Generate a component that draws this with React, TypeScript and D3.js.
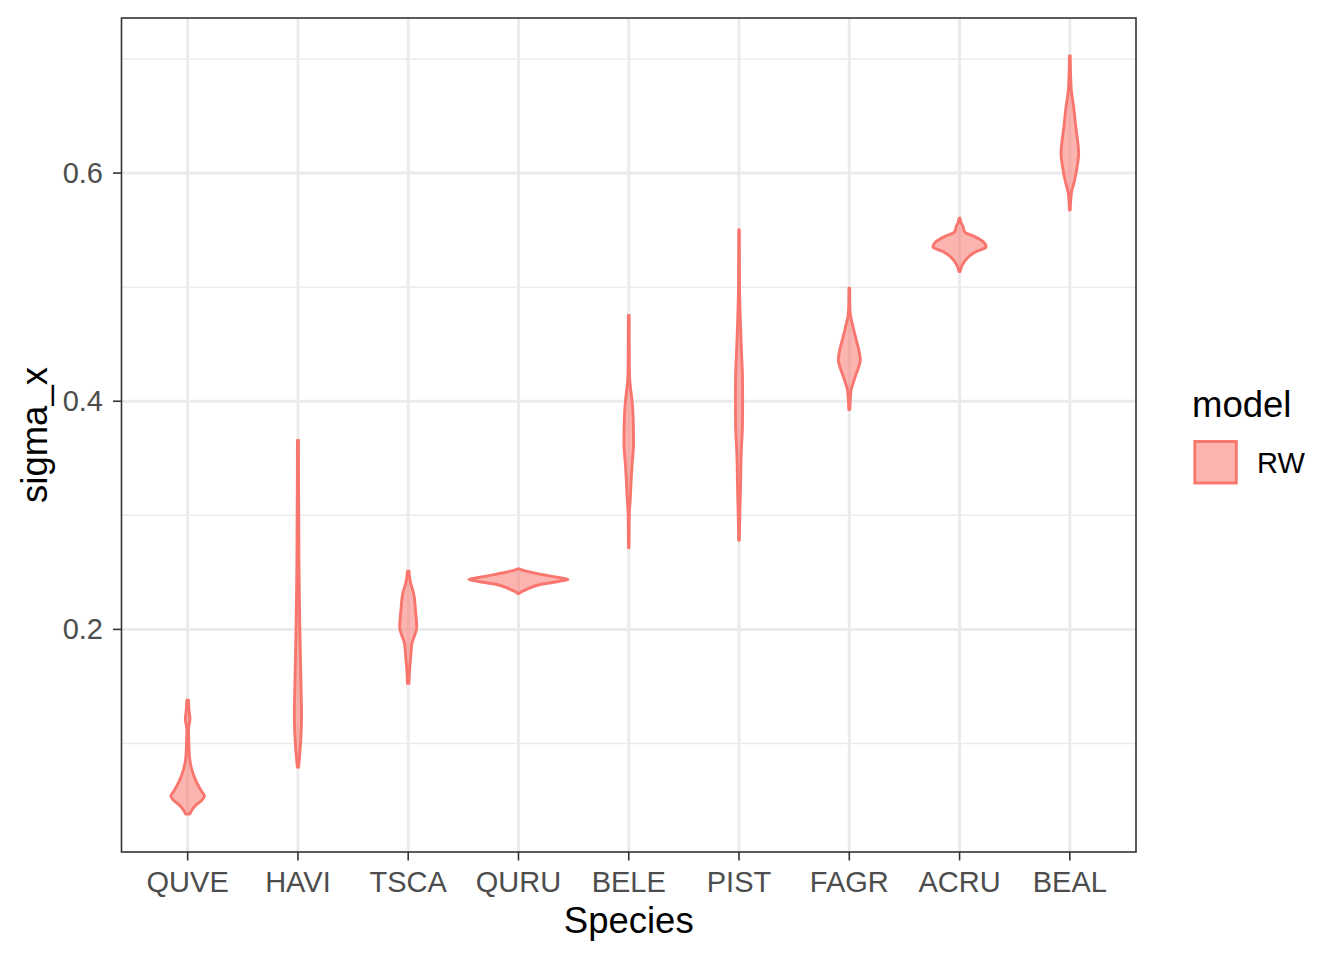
import React from "react";
import * as d3 from "d3";

// Categories, in axis order
const species: string[] = ["QUVE", "HAVI", "TSCA", "QURU", "BELE", "PIST", "FAGR", "ACRU", "BEAL"];
const majorTicks: number[] = [0.2, 0.4, 0.6];
const minorTicks: number[] = [0.1, 0.3, 0.5, 0.7];
const legendTitle = "model";
const legendLabels: string[] = ["RW"];

// Violin profiles: [sigma_x value, relative density]
const quve: [number, number][] = [
  [0.1379, 0.8], [0.130, 1.3], [0.1212, 2.3], [0.1125, 0.8], [0.100, 1.2], [0.0891, 1.7],
  [0.0775, 4], [0.0658, 9], [0.058, 14], [0.0541, 16.8], [0.050, 14], [0.0468, 9.3],
  [0.042, 4.5], [0.0381, 2],
];
const havi: [number, number][] = [
  [0.3657, 0.5], [0.33, 0.6], [0.30, 0.8], [0.259, 1.0], [0.23, 1.4], [0.20, 1.9],
  [0.17, 2.6], [0.145, 3.2], [0.127, 3.6], [0.11, 3.2], [0.095, 2.2], [0.085, 1.2], [0.0792, 0.6],
];
const tsca: [number, number][] = [
  [0.251, 0.8], [0.247, 1.2], [0.241, 2.3], [0.232, 5.3], [0.2175, 7.2], [0.2017, 8.5],
  [0.195, 6.5], [0.188, 3.8], [0.176, 2.5], [0.162, 1.2], [0.1527, 0.8],
];
const quru: [number, number][] = [
  [0.2531, 0.5], [0.2520, 4], [0.2510, 8], [0.2480, 24], [0.2455, 40], [0.2438, 49.6],
  [0.2420, 40], [0.2398, 24], [0.2350, 8], [0.2330, 3], [0.2314, 0.5],
];
const bele: [number, number][] = [
  [0.4753, 0.4], [0.45, 0.5], [0.43, 0.6], [0.42, 0.9], [0.413, 1.6], [0.401, 3.2],
  [0.387, 4.3], [0.3634, 4.8], [0.343, 3.2], [0.329, 2.3], [0.314, 1.5], [0.302, 0.6],
  [0.285, 0.4], [0.2715, 0.3],
];
const pist: [number, number][] = [
  [0.5504, 0.3], [0.5007, 0.5], [0.4716, 1.3], [0.4425, 2.5], [0.419, 3.5], [0.40, 3.6],
  [0.378, 3.4], [0.355, 2.2], [0.3255, 1.5], [0.2963, 0.7], [0.2782, 0.3],
];
const fagr: [number, number][] = [
  [0.499, 0.4], [0.485, 0.5], [0.475, 1.2], [0.468, 3], [0.4597, 5.2], [0.451, 7.8],
  [0.443, 10], [0.4363, 11], [0.429, 9], [0.4217, 6], [0.415, 3.5], [0.410, 1.8],
  [0.4013, 1], [0.3926, 0.5],
];
const acru: [number, number][] = [
  [0.5604, 0.5], [0.5565, 1.5], [0.5530, 3.5], [0.5505, 4], [0.548, 5.5], [0.5443, 15],
  [0.5399, 23.5], [0.5370, 26], [0.535, 26.5], [0.533, 22], [0.5313, 17], [0.528, 11],
  [0.5243, 6.5], [0.519, 2.5], [0.5136, 0.5],
];
const beal: [number, number][] = [
  [0.7027, 0.4], [0.685, 0.8], [0.6726, 1.5], [0.658, 3.8], [0.6403, 6], [0.628, 7.8],
  [0.6172, 8.8], [0.605, 7.2], [0.5939, 4.8], [0.5822, 1.5], [0.575, 0.8], [0.5676, 0.4],
];
const profiles: [number, number][][] = [quve, havi, tsca, quru, bele, pist, fagr, acru, beal];

const W = 1344;
const H = 960;
const panel = { left: 121.5, right: 1136, top: 18, bottom: 852 };
const FONT = "'Liberation Sans', Arial, Helvetica, sans-serif";
const COLOR = "#F8766D";

export default function App() {
  const allVals = profiles.flat().map((d) => d[0]);
  const lo = d3.min(allVals) as number;
  const hi = d3.max(allVals) as number;
  const pad = (hi - lo) * 0.05;
  const y = d3.scaleLinear().domain([lo - pad, hi + pad]).range([panel.bottom, panel.top]);
  const x = d3.scalePoint<string>().domain(species).range([panel.left, panel.right]).padding(0.6);
  const maxDens = d3.max(profiles.flat().map((d) => d[1])) as number;
  const w = d3.scaleLinear().domain([0, maxDens]).range([0, x.step() * 0.45]);

  const violins = profiles.map((prof, i) => {
    const cx = x(species[i]) as number;
    const sorted = [...prof].sort((a, b) => b[0] - a[0]);
    const area = d3
      .area<[number, number]>()
      .y((d) => y(d[0]))
      .x0((d) => cx - w(d[1]))
      .x1((d) => cx + w(d[1]))
      .curve(d3.curveMonotoneY);
    return area(sorted) as string;
  });

  return (
    <svg width={W} height={H} style={{ position: "absolute", left: 0, top: 0, background: "#fff" }}>
      <rect x={0} y={0} width={W} height={H} fill="#fff" />
      {/* minor grid */}
      {minorTicks.map((t) => (
        <line key={"mi" + t} x1={panel.left} x2={panel.right} y1={y(t)} y2={y(t)} stroke="#EBEBEB" strokeWidth={1.5} />
      ))}
      {/* major grid */}
      {majorTicks.map((t) => (
        <line key={"ma" + t} x1={panel.left} x2={panel.right} y1={y(t)} y2={y(t)} stroke="#EBEBEB" strokeWidth={3} />
      ))}
      {species.map((s) => (
        <line key={"vx" + s} x1={x(s)} x2={x(s)} y1={panel.top} y2={panel.bottom} stroke="#EBEBEB" strokeWidth={3} />
      ))}
      {/* violins */}
      {violins.map((d, i) => (
        <path key={"v" + i} d={d} fill={COLOR} fillOpacity={0.55} stroke={COLOR} strokeWidth={2.9} strokeLinejoin="round" />
      ))}
      {/* panel border */}
      <rect
        x={panel.left}
        y={panel.top}
        width={panel.right - panel.left}
        height={panel.bottom - panel.top}
        fill="none"
        stroke="#333333"
        strokeWidth={1.6}
      />
      {/* y ticks */}
      {majorTicks.map((t) => (
        <g key={"yt" + t}>
          <line x1={panel.left - 8.5} x2={panel.left} y1={y(t)} y2={y(t)} stroke="#333333" strokeWidth={1.6} />
          <text x={103} y={y(t) + 10} textAnchor="end" fontFamily={FONT} fontSize={29} fill="#4D4D4D">
            {d3.format(".1f")(t)}
          </text>
        </g>
      ))}
      {/* x ticks */}
      {species.map((s) => (
        <g key={"xt" + s}>
          <line x1={x(s)} x2={x(s)} y1={panel.bottom} y2={panel.bottom + 8.5} stroke="#333333" strokeWidth={1.6} />
          <text x={x(s)} y={892} textAnchor="middle" fontFamily={FONT} fontSize={29} fill="#4D4D4D">
            {s}
          </text>
        </g>
      ))}
      {/* axis titles */}
      <text x={(panel.left + panel.right) / 2} y={933} textAnchor="middle" fontFamily={FONT} fontSize={36.5} fill="#000">
        Species
      </text>
      <text
        transform={`translate(47, ${(panel.top + panel.bottom) / 2}) rotate(-90)`}
        textAnchor="middle"
        fontFamily={FONT}
        fontSize={36.5}
        fill="#000"
      >
        sigma_x
      </text>
      {/* legend */}
      <text x={1192} y={417} fontFamily={FONT} fontSize={36.5} fill="#000">
        {legendTitle}
      </text>
      {legendLabels.map((lab, i) => (
        <g key={"lg" + lab}>
          <rect x={1194.8} y={441.5 + i * 46} width={41.5} height={41.5} fill={COLOR} fillOpacity={0.55} stroke={COLOR} strokeWidth={2.9} />
          <text x={1257} y={473 + i * 46} fontFamily={FONT} fontSize={29} fill="#000">
            {lab}
          </text>
        </g>
      ))}
    </svg>
  );
}
